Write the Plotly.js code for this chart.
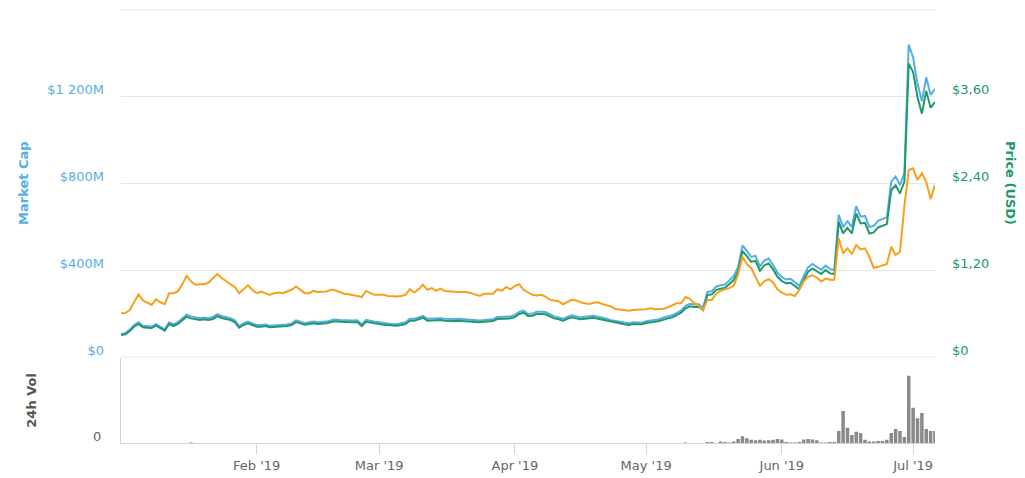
<!DOCTYPE html>
<html><head><meta charset="utf-8">
<script src="https://cdn.plot.ly/plotly-3.0.1.min.js"></script>
<style>html,body{margin:0;padding:0;background:#fff}#chart{width:1025px;height:478px}</style>
</head><body><div id="chart"></div>
<script>
// Daily samples starting 2019-01-01
const startDate = [2019, 0, 1];

// Market cap, millions of USD
const marketCapM = [
 106,110,126,147,160,144,142,140,151,140,
 127,160,150,160,179,195,187,182,179,182,
 179,184,198,189,184,179,169,142,155,163,
 155,147,147,150,144,145,147,147,150,155,
 169,163,156,160,163,160,160,163,169,173,
 171,169,169,168,169,150,171,166,163,160,
 156,155,151,151,155,160,176,176,182,190,
 176,178,179,179,176,174,174,176,174,173,
 171,169,168,171,173,174,184,184,185,187,
 194,208,214,198,200,208,208,207,197,187,
 182,176,185,192,187,182,185,187,190,185,
 181,176,169,165,163,158,155,160,158,158,
 165,169,171,174,182,187,192,203,214,236,
 245,242,243,227,300,303,324,331,334,353,
 373,413,514,489,461,466,418,444,454,424,
 389,368,357,360,344,328,373,413,429,415,
 402,421,405,402,655,599,626,599,695,647,
 650,599,604,628,637,644,808,832,792,848,
 1440,1381,1260,1180,1289,1208,1236
];

// Price in USD
const priceUsd = [
 0.304,0.313,0.359,0.418,0.456,0.410,0.405,0.400,0.432,0.400,
 0.363,0.456,0.428,0.456,0.511,0.557,0.534,0.521,0.511,0.521,
 0.511,0.525,0.566,0.539,0.525,0.511,0.483,0.405,0.442,0.465,
 0.442,0.418,0.418,0.428,0.410,0.414,0.418,0.418,0.428,0.442,
 0.483,0.465,0.446,0.456,0.465,0.456,0.456,0.465,0.483,0.493,
 0.487,0.483,0.483,0.479,0.483,0.428,0.487,0.474,0.465,0.456,
 0.446,0.442,0.432,0.432,0.442,0.456,0.501,0.501,0.521,0.543,
 0.501,0.507,0.511,0.511,0.501,0.497,0.497,0.501,0.497,0.493,
 0.487,0.483,0.479,0.487,0.493,0.497,0.525,0.525,0.529,0.534,
 0.552,0.594,0.612,0.566,0.570,0.594,0.594,0.590,0.562,0.534,
 0.521,0.501,0.529,0.548,0.534,0.521,0.529,0.534,0.543,0.529,
 0.515,0.501,0.483,0.470,0.465,0.452,0.442,0.456,0.452,0.452,
 0.470,0.483,0.487,0.497,0.521,0.534,0.548,0.580,0.612,0.673,
 0.700,0.691,0.695,0.649,0.856,0.866,0.925,0.943,0.953,1.008,
 1.063,1.178,1.468,1.395,1.316,1.330,1.192,1.266,1.294,1.211,
 1.109,1.050,1.018,1.026,0.981,0.935,1.063,1.178,1.225,1.183,
 1.146,1.201,1.156,1.146,1.868,1.708,1.786,1.708,1.984,1.846,
 1.855,1.708,1.722,1.791,1.819,1.837,2.306,2.375,2.261,2.421,
 4.056,3.940,3.595,3.365,3.678,3.448,3.526
];

// Price in BTC, expressed in satoshi (hidden axis)
const priceSat = [
 7810,7860,8400,9880,11200,10100,9700,9290,10300,9770,
 9420,11400,11400,11700,13000,14500,13500,12900,13000,13000,
 13300,14100,14800,14100,13500,13000,12500,11400,12100,12800,
 12000,11400,11700,11400,11100,11400,11500,11400,11700,12000,
 12600,12000,11400,11400,11800,11600,11600,11700,12000,11900,
 11600,11300,11200,11100,10900,10700,11800,11400,11100,11100,
 11100,10900,10800,10800,10900,11100,12100,11500,12100,12900,
 12000,12300,11800,12200,11800,11700,11700,11600,11600,11600,
 11400,11100,10900,11300,11300,11300,12100,11800,12500,12100,
 12700,13000,12000,11600,11100,11000,11100,10800,10200,10100,
 9950,9420,9770,10200,10100,9770,9600,9470,9700,9770,
 9470,9290,8990,8580,8450,8400,8270,8400,8400,8400,
 8520,8700,8520,8580,8630,8880,9240,9600,9600,10700,
 10400,9600,9170,8400,10200,10200,11300,11800,12100,12300,
 12700,14700,17900,16600,15900,14200,12700,13500,13900,13300,
 12100,11500,11100,11200,10900,12000,13500,14300,14600,14200,
 13500,14000,13800,13800,21200,18500,19400,18400,20000,19200,
 19400,17900,15900,16100,16300,16600,19700,18200,18800,26900,
 33400,33700,31600,32800,31300,28200,30700
];

// 24h volume, millions of USD
const volumeM = [
 0,0,0,0,0,0,0,0,0,0,
 0,0,0,0,0,0,1,0,0,0,
 0,0,0,0,0,0,0,0,0,0,
 0,0,0,0,0,0,0,0,0,0,
 0,0,0,0,0,0,0,0,0,0,
 0,0,0,0,0,0,0,0,0,0,
 0,0,0,0,0,0,0,0,0,0,
 0,0,0,0,0,0,0,0,0,0,
 0,0,0,0,0,0,0,0,0,0,
 0,0,0,0,0,0,0,0,0,0,
 0,0,0,0,0,0,0,0,0,0,
 0,0,0,0,0,0,0,0,0,0,
 0,0,0,0,0,0,0,0,0,1,
 0,0,0,0,2.5,2.5,0,4,2.5,1,
 4,10,17,12,8,7,8,6,7,8,
 10,9,2.5,1,1,2.5,9,10,9,7,
 1,1,2.5,2.5,30,80,38,20,28,25,
 8,4,4,5,5,8,25,35,30,15,
 168,88,62,75,35,30,30
];

const monthTicks = ['2019-02-01','2019-03-01','2019-04-01','2019-05-01','2019-06-01','2019-07-01'];
const monthLabels = ["Feb '19","Mar '19","Apr '19","May '19","Jun '19","Jul '19"];
const capTicks = [0, 400, 800, 1200, 1600];
const capLabels = ['$0', '$400M', '$800M', '$1 200M', ''];
const priceTicks = [0, 1.2, 2.4, 3.6];
const priceLabels = ['$0', '$1,20', '$2,40', '$3,60'];
const volTicks = [0];
const volLabels = ['0'];

const dates = marketCapM.map((_, i) =>
  new Date(Date.UTC(startDate[0], startDate[1], startDate[2] + i)).toISOString().slice(0, 10));

const BLUE = '#55aee6', GREEN = '#21996c', ORANGE = '#f8a01b';
const GRID = '#e6e6e6';
const FONT = 'DejaVu Sans, Verdana, sans-serif';

const traces = [
  {type:'bar', x:dates, y:volumeM, yaxis:'y2', xaxis:'x',
   marker:{color:'#8a8a8a', line:{width:0}}, hoverinfo:'skip'},
  {type:'scatter', mode:'lines', x:dates, y:marketCapM, yaxis:'y', name:'Market Cap',
   line:{color:BLUE, width:2}},
  {type:'scatter', mode:'lines', x:dates, y:priceUsd, yaxis:'y3', name:'Price (USD)',
   line:{color:GREEN, width:2}},
  {type:'scatter', mode:'lines', x:dates, y:priceSat, yaxis:'y4', name:'Price (BTC)',
   line:{color:ORANGE, width:2}}
];

// edge gridlines (first and last market-cap ticks) drawn as shapes so they are never clipped
const edgeGrid = [capTicks[0], capTicks[capTicks.length - 1]].map(v => ({
  type:'line', xref:'paper', yref:'y', x0:0, x1:1, y0:v, y1:v,
  line:{color:GRID, width:1}, layer:'below'
}));

const mainBottom = 0.1967;
const layout = {
  width:1025, height:478,
  margin:{l:121, r:90, t:9, b:35},
  paper_bgcolor:'#ffffff', plot_bgcolor:'#ffffff',
  showlegend:false, hovermode:false,
  font:{family:FONT, size:13, color:'#666666'},
  bargap:0.2,
  xaxis:{type:'date', range:['2019-01-01','2019-07-06'], anchor:'y2',
    tickmode:'array', tickvals:monthTicks, ticktext:monthLabels,
    ticks:'outside', ticklen:10, tickcolor:'#ccd6eb', tickwidth:1,
    showline:true, linecolor:'#ccd6eb', linewidth:1,
    showgrid:false, zeroline:false,
    tickfont:{family:FONT, size:13, color:'#666666'}},
  yaxis:{domain:[mainBottom, 1], range:[-3, 1604], anchor:'x',
    tickmode:'array', tickvals:capTicks, ticktext:capLabels,
    showgrid:true, gridcolor:GRID, gridwidth:1, zeroline:false, showline:false, ticks:'',
    tickfont:{family:FONT, size:13, color:BLUE}, ticklabelstandoff:16, ticklabelshift:-7},
  yaxis2:{domain:[0, mainBottom], range:[0, 213], anchor:'x',
    tickmode:'array', tickvals:volTicks, ticktext:volLabels,
    showgrid:false, zeroline:false, showline:true, linecolor:'#ccd6eb', linewidth:1, ticks:'',
    tickfont:{family:FONT, size:13, color:'#666666'}, ticklabelstandoff:16, ticklabelshift:-7},
  yaxis3:{overlaying:'y', side:'right', range:[-0.009, 4.812], anchor:'x',
    tickmode:'array', tickvals:priceTicks, ticktext:priceLabels,
    showgrid:false, zeroline:false, showline:false, ticks:'',
    tickfont:{family:FONT, size:13, color:GREEN}, ticklabelstandoff:16, ticklabelshift:-7},
  yaxis4:{overlaying:'y', range:[-116.25, 62155], visible:false, anchor:'x'},
  shapes: edgeGrid,
  annotations:[
    {text:'<b>Market Cap</b>', xref:'paper', yref:'paper', x:-0.12, y:0.600,
     xanchor:'center', yanchor:'middle', textangle:-90, showarrow:false,
     font:{family:FONT, size:13, color:BLUE}},
    {text:'<b>Price (USD)</b>', xref:'paper', yref:'paper', x:1.0934, y:0.599,
     xanchor:'center', yanchor:'middle', textangle:90, showarrow:false,
     font:{family:FONT, size:13, color:GREEN}},
    {text:'<b>24h Vol</b>', xref:'paper', yref:'paper', x:-0.111, y:0.099,
     xanchor:'center', yanchor:'middle', textangle:-90, showarrow:false,
     font:{family:FONT, size:13, color:'#555555'}}
  ]
};

Plotly.newPlot('chart', traces, layout, {staticPlot:true, displayModeBar:false});
</script>
</body></html>
